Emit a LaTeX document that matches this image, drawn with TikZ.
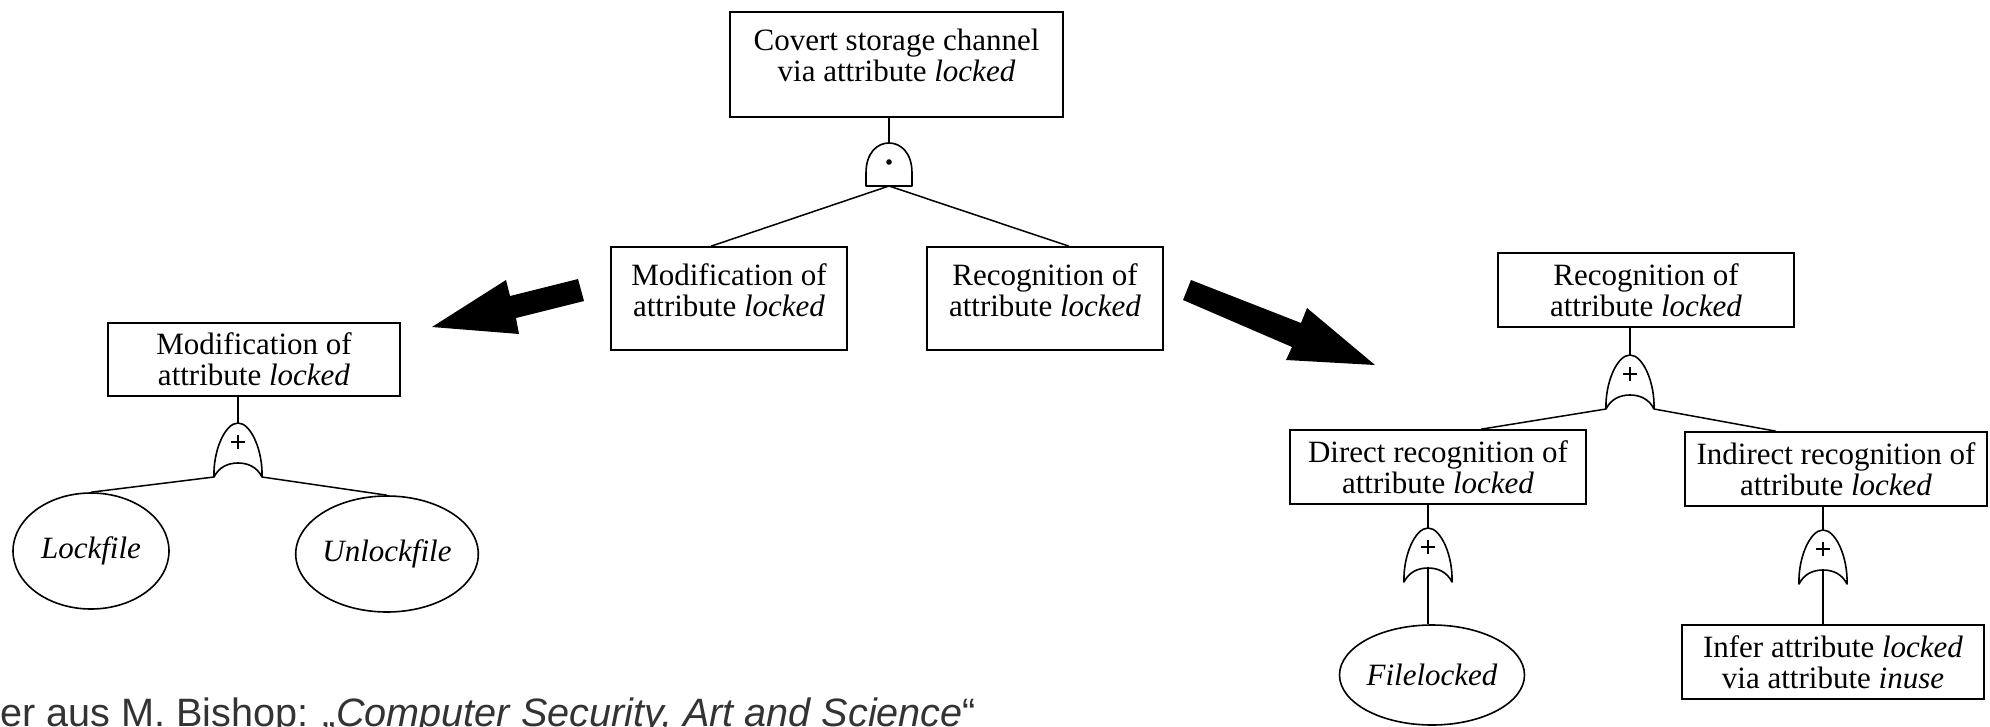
\documentclass[tikz,border=0pt]{standalone}
\usepackage{fontspec}
\setmainfont{Liberation Serif}
\newfontfamily\capfont{Liberation Sans}
\usetikzlibrary{shapes.geometric,calc}

\tikzset{
  treefont/.style={font=\fontsize{31}{31}\selectfont},
  treebox/.style={draw, line width=1.6pt, inner sep=0pt, align=center, treefont},
  boxtext/.style={inner sep=0pt, align=center, treefont},
  leaf/.style={draw, ellipse, line width=1.6pt, inner sep=0pt,
    font=\fontsize{31}{31}\selectfont\itshape},
  wire/.style={line width=1.5pt},
  gateline/.style={line width=1.6pt, line join=round},
  pics/andgate/.style={code={
    \draw[gateline] (-23,43) -- (-23,30) .. controls (-23,10) and (-12,0) .. (0,0)
      .. controls (12,0) and (23,10) .. (23,30) -- (23,43) -- cycle;
    \fill (0,19) circle[radius=2.8pt];
    \coordinate (-top) at (0,0);
    \coordinate (-out) at (0,43);
  }},
  pics/orgate/.style={code={
    \draw[gateline] (-24,54) .. controls (-25,28) and (-13,0) .. (0,0)
      .. controls (13,0) and (25,28) .. (24,54)
      .. controls (19,44) and (10,40) .. (0,40)
      .. controls (-10,40) and (-19,44) .. (-24,54) -- cycle;
    \draw[line width=1.7pt] (-7,19) -- (7,19) (0,12) -- (0,26);
    \coordinate (-top) at (0,0);
    \coordinate (-l) at (-24,54);
    \coordinate (-r) at (24,54);
    \coordinate (-in) at (0,40);
  }},
}

\begin{document}
\begin{tikzpicture}[x=1pt, y=-1pt]
\useasboundingbox (0,0) rectangle (1990,726);

% ---- top level: the covert channel and its AND gate ----
\node[treebox, minimum width=333pt, minimum height=105pt] (top) at (896.5,64.5) {};
\node[boxtext] (topText) at (896.5,55) {Covert storage channel\\via attribute \emph{locked}};
\pic (g0) at (889,143) {andgate};

\node[treebox, minimum width=236pt, minimum height=103pt] (mod) at (729,298.5) {};
\node[boxtext] (modText) at (729,290) {Modification of\\attribute \emph{locked}};
\node[treebox, minimum width=236pt, minimum height=103pt] (rec) at (1045,298.5) {};
\node[boxtext] (recText) at (1045,290) {Recognition of\\attribute \emph{locked}};

\draw[wire] (g0-top) -- (g0-top |- top.south);
\draw[wire] (g0-out) -- ([xshift=-18pt]mod.north);
\draw[wire] (g0-out) -- ([xshift=24pt]rec.north);

% ---- left subtree: modification ----
\node[treebox, minimum width=292pt, minimum height=73pt] (lmod) at (254,359.5)
  {Modification of\\attribute \emph{locked}};
\pic (g1) at (238,423) {orgate};
\node[leaf, minimum width=156pt, minimum height=116pt] (lock) at (91,551) {Lockfile};
\node[leaf, minimum width=154pt, minimum height=116pt] (unlock) at (387,554) {Unlockfile};
\draw[wire] (g1-top) -- (g1-top |- lmod.south);
\draw[wire] (g1-l) -- (lock.north);
\draw[wire] (g1-r) -- (unlock.north);

% ---- right subtree: recognition ----
\node[treebox, minimum width=296pt, minimum height=74pt] (rrec) at (1646,290)
  {Recognition of\\attribute \emph{locked}};
\pic (g2) at (1630,355) {orgate};
\node[treebox, minimum width=296pt, minimum height=74pt] (direct) at (1438,467)
  {Direct recognition of\\attribute \emph{locked}};
\node[treebox, minimum width=302pt, minimum height=74pt] (indirect) at (1836,469)
  {Indirect recognition of\\attribute \emph{locked}};
\draw[wire] (g2-top) -- (g2-top |- rrec.south);
\draw[wire] (g2-l) -- ([xshift=43pt]direct.north);
\draw[wire] (g2-r) -- ([xshift=-60pt]indirect.north);

\pic (g3) at (1428,528) {orgate};
\node[leaf, minimum width=168pt, minimum height=100pt] (file) at (1432,675) {Filelocked};
\draw[wire] (g3-top) -- (g3-top |- direct.south);
\draw[wire] (g3-in) -- (g3-in |- file.north);

\pic (g4) at (1823,530) {orgate};
\node[treebox, minimum width=302pt, minimum height=74pt] (infer) at (1833,662)
  {Infer attribute \emph{locked}\\via attribute \emph{inuse}};
\draw[wire] (g4-top) -- (g4-top |- indirect.south);
\draw[wire] (g4-in) -- (g4-in |- infer.north);

% ---- block arrows leading to the expanded subtrees ----
\fill (578,279) -- (510,296) -- (506,280) -- (432,327) -- (519,334)
  -- (516,318) -- (584,301) -- cycle;
\fill (1191,280) -- (1301,323) -- (1307,308) -- (1375,365) -- (1286,360)
  -- (1292,347) -- (1183,300) -- cycle;

% ---- source line ----
\node[anchor=base west, inner sep=0pt, text=black!80,
  font=\capfont\fontsize{39.6}{39.6}\selectfont] (src) at (0,726.5)
  {er aus M. Bishop: „\textit{Computer Security, Art and Science}“};
\end{tikzpicture}
\end{document}
